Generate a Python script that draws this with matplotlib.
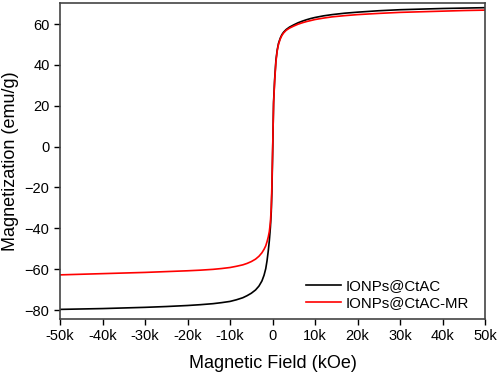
import numpy as np
import matplotlib
matplotlib.use('Agg')
import matplotlib.pyplot as plt

plt.rcParams['font.family'] = ['Liberation Sans', 'DejaVu Sans']

# 磁场 (kOe) 与磁化强度 (emu/g)
field = [-50, -45, -40, -35, -30, -25, -20, -17, -14, -12, -10, -8.5, -7, -6, -5, -4,
         -3.2, -2.5, -2, -1.6, -1.3, -1.0, -0.75, -0.5, -0.3, -0.15, 0,
         0.25, 0.5, 0.8, 1.1, 1.4, 1.8, 2.2, 2.6, 3.2, 4, 5, 6, 7, 8, 9, 10, 12, 14,
         17, 20, 25, 30, 35, 40, 45, 50]
m_ctac = [-79.7, -79.5, -79.3, -79.0, -78.7, -78.3, -77.8, -77.4, -76.9, -76.4, -75.8,
          -75.0, -74.0, -73.0, -71.8, -70.2, -68.3, -65.8, -63.0, -59.8, -56.0, -51.0,
          -46.0, -39.5, -32.0, -22.0, -6.0,
          22.0, 33.0, 42.4, 47.3, 50.5, 53.0, 54.8, 56.0, 57.3, 58.5, 59.6, 60.6, 61.4,
          62.1, 62.7, 63.2, 64.0, 64.6, 65.3, 65.8, 66.5, 67.0, 67.3, 67.6, 67.8, 68.0]
m_ctac_mr = [-62.8, -62.5, -62.2, -61.9, -61.6, -61.2, -60.8, -60.5, -60.1, -59.7, -59.2,
             -58.6, -57.9, -57.2, -56.3, -55.1, -53.7, -52.0, -50.3, -48.6, -46.6, -44.2,
             -41.5, -37.0, -30.0, -19.0, -4.0,
             21.0, 32.0, 41.5, 46.8, 50.0, 52.6, 54.4, 55.6, 56.9, 58.0, 59.0, 59.9, 60.6,
             61.2, 61.7, 62.2, 62.9, 63.5, 64.1, 64.6, 65.2, 65.7, 66.0, 66.3, 66.6, 66.8]
labels = ['IONPs@CtAC', 'IONPs@CtAC-MR']

fig = plt.figure(figsize=(4.98, 3.72), dpi=100)
ax = fig.add_axes([0.1205, 0.1425, 0.8535, 0.8495])

x = np.array(field) * 1000
ax.plot(x, m_ctac, color='black', lw=1.2, label=labels[0])
ax.plot(x, m_ctac_mr, color='red', lw=1.2, label=labels[1])

ax.set_xlim(-50000, 50000)
ax.set_ylim(-84.4, 70.3)
ax.set_xticks(np.arange(-50000, 50001, 10000))
ax.set_xticklabels(['-50k', '-40k', '-30k', '-20k', '-10k', '0',
                    '10k', '20k', '30k', '40k', '50k'])
ax.set_yticks(np.arange(-80, 61, 20))
ax.tick_params(direction='out', length=4, width=1, labelsize=10.5, colors='black')
for s in ax.spines.values():
    s.set_color('#444444')
    s.set_linewidth(1.2)

ax.set_xlabel('Magnetic Field (kOe)', fontsize=13, labelpad=8)
ax.set_ylabel('Magnetization (emu/g)', fontsize=13, labelpad=4)

ax.legend(loc='lower right', bbox_to_anchor=(0.995, -0.015), frameon=False,
          fontsize=10.8, handlelength=2.3, handletextpad=0.35, labelspacing=0.2)

fig.savefig('out.png', dpi=100)
